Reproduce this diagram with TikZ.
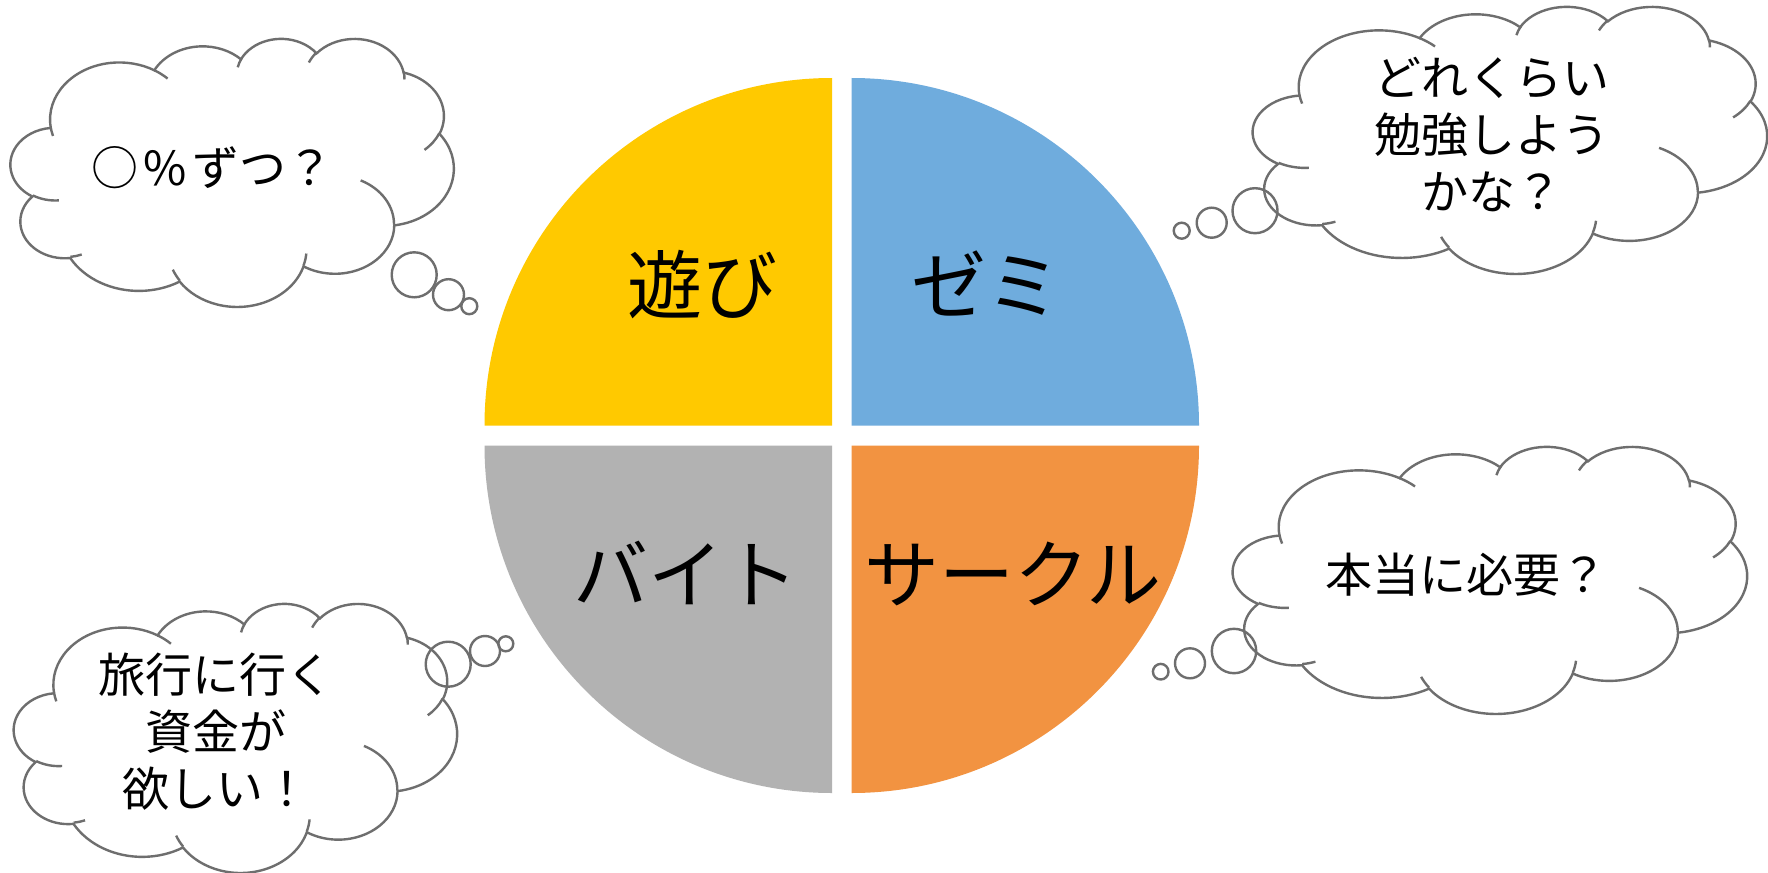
\documentclass[tikz,border=0pt]{standalone}
\usepackage{fontspec}
\newfontfamily\jp{Noto Sans CJK JP}
\definecolor{qyellow}{HTML}{FFC900}
\definecolor{qblue}{HTML}{6FACDD}
\definecolor{qgrey}{HTML}{B2B2B2}
\definecolor{qorange}{HTML}{F29341}
\definecolor{cloudgray}{HTML}{6E6E6E}
\pgfmathdeclarefunction{cloudang}{3}{%
  \begingroup
    \pgfmathparse{atan2((#1)*sin(#3),(#2)*cos(#3))-(#3)}%
    \let\cadd\pgfmathresult
    \pgfmathparse{-((#3)+\cadd-360*round(\cadd/360))}%
    \pgfmathsmuggle\pgfmathresult
  \endgroup}
\newcommand\carc[4]{arc[start angle={cloudang(#1,#2,#3)}, end angle={cloudang(#1,#2,#4)}, x radius={#1*\sx}, y radius={#2*\sy}]}
\newcommand\cloudshape[4]{%
  \begin{scope}[shift={(#1,-#2)}]
  \pgfmathsetmacro\sx{#3/432}
  \pgfmathsetmacro\sy{#4/432}
  \filldraw[cloudline, fill=white] ({39.00*\sx},{-143.70*\sy})
    \carc{67.53}{91.90}{-190.4875}{-66.7070}
    \carc{53.33}{72.67}{-144.1024}{-54.1572}
    \carc{43.65}{59.45}{-145.8079}{-46.0849}
    \carc{48.57}{65.95}{-130.9861}{-13.7444}
    \carc{53.33}{72.73}{-78.7089}{30.3180}
    \carc{67.75}{92.20}{-46.2673}{84.0017}
    \carc{57.85}{78.67}{0.6250}{114.6583}
    \carc{67.52}{92.15}{22.4516}{137.6242}
    \carc{77.20}{105.43}{66.2426}{141.9536}
    \carc{43.60}{59.18}{-274.9421}{-128.2065}
    \carc{43.45}{59.45}{-246.8285}{-94.3096}
    -- cycle;
  \draw[cloudline]
    ({46.93*\sx},{-261.77*\sy}) \carc{43.45}{59.45}{86.7420}{113.1715}
    ({69.28*\sx},{-348.99*\sy}) \carc{43.60}{59.18}{73.6105}{85.0580}
    ({164.78*\sx},{-390.90*\sy}) \carc{67.52}{92.15}{137.6242}{151.7053}
    ({288.27*\sx},{-347.51*\sy}) \carc{67.52}{92.15}{6.4533}{22.4517}
    ({341.29*\sx},{-229.54*\sy}) \carc{57.85}{78.67}{-70.2924}{0.6250}
    ({417.98*\sx},{-153.54*\sy}) \carc{53.33}{72.73}{30.3180}{58.0695}
    ({383.24*\sx},{-54.26*\sy}) \carc{48.57}{65.95}{-13.7443}{1.1146}
    ({290.78*\sx},{-39.52*\sy}) \carc{48.57}{65.95}{-149.1815}{-130.9861}
    ({221.41*\sx},{-47.20*\sy}) \carc{43.65}{59.45}{-163.4943}{-145.8079}
    ({140.00*\sx},{-51.92*\sy}) \carc{67.53}{91.90}{-66.7070}{-54.3876}
    ({41.27*\sx},{-157.89*\sy}) \carc{67.53}{91.90}{157.6544}{169.5126};
  \end{scope}}
\tikzset{
  cloudline/.style={draw=cloudgray, line width=2.4pt},
  bubble/.style={draw=cloudgray, line width=2.4pt, fill=none},
  biglabel/.style={font=\jp\fontsize{75}{80}\selectfont, inner sep=0pt, text=black},
  cloudtext/.style={font=\jp\fontsize{47}{57}\selectfont, inner sep=0pt, align=center, text=black}
}
\begin{document}
\begin{tikzpicture}[x=1pt,y=1pt]
\useasboundingbox (0,0) rectangle (1768,-872);
\fill[white] (0,0) rectangle (1768,-872);
% pie quadrants
\fill[qyellow] (832,-425.5) -- (484.5,-425.5) arc[start angle=180, end angle=90, radius=347.5] -- cycle;
\fill[qblue] (851.5,-425.5) -- (851.5,-78) arc[start angle=90, end angle=0, radius=347.5] -- cycle;
\fill[qgrey] (832,-445.5) -- (832,-793) arc[start angle=270, end angle=180, radius=347.5] -- cycle;
\fill[qorange] (851.5,-445.5) -- (1199,-445.5) arc[start angle=0, end angle=-90, radius=347.5] -- cycle;
\node[biglabel] (asobi) at (702.7,-285) {遊び};
\node[biglabel] (zemi) at (986,-283) {ゼミ};
\node[biglabel] (baito) at (686,-572.5) {バイト};
\node[biglabel] (saakuru) at (1013,-574) {サークル};
% clouds
\cloudshape{10.7}{38}{443}{268}
\draw[bubble] (414.2,-274.8) circle[radius=22.5];
\draw[bubble] (448.5,-294.7) circle[radius=15.5];
\draw[bubble] (469.3,-306.2) circle[radius=8];
\node[cloudtext] (t1) at (212.5,-168) {○\kern5pt\%\kern5pt ずつ？};
\cloudshape{1253}{6}{514}{267}
\draw[bubble] (1255,-210.7) circle[radius=22.5];
\draw[bubble] (1211.7,-222.7) circle[radius=15];
\draw[bubble] (1181.7,-230.7) circle[radius=8];
\node[cloudtext] (t2) at (1492,-135) {どれくらい\\勉強しよう\\かな？};
\cloudshape{14}{603}{443}{269}
\draw[bubble] (448.2,-664.2) circle[radius=22.5];
\draw[bubble] (485,-651) circle[radius=15];
\draw[bubble] (505.8,-643.8) circle[radius=7.5];
\node[cloudtext] (t3) at (216,-732) {旅行に行く\\資金が\\欲しい！};
\cloudshape{1233}{446}{514}{267}
\draw[bubble] (1234,-651) circle[radius=22.2];
\draw[bubble] (1190,-663.3) circle[radius=15];
\draw[bubble] (1160.7,-671.7) circle[radius=7.8];
\node[cloudtext] (t4) at (1466,-575) {本当に必要？};
\end{tikzpicture}
\end{document}
